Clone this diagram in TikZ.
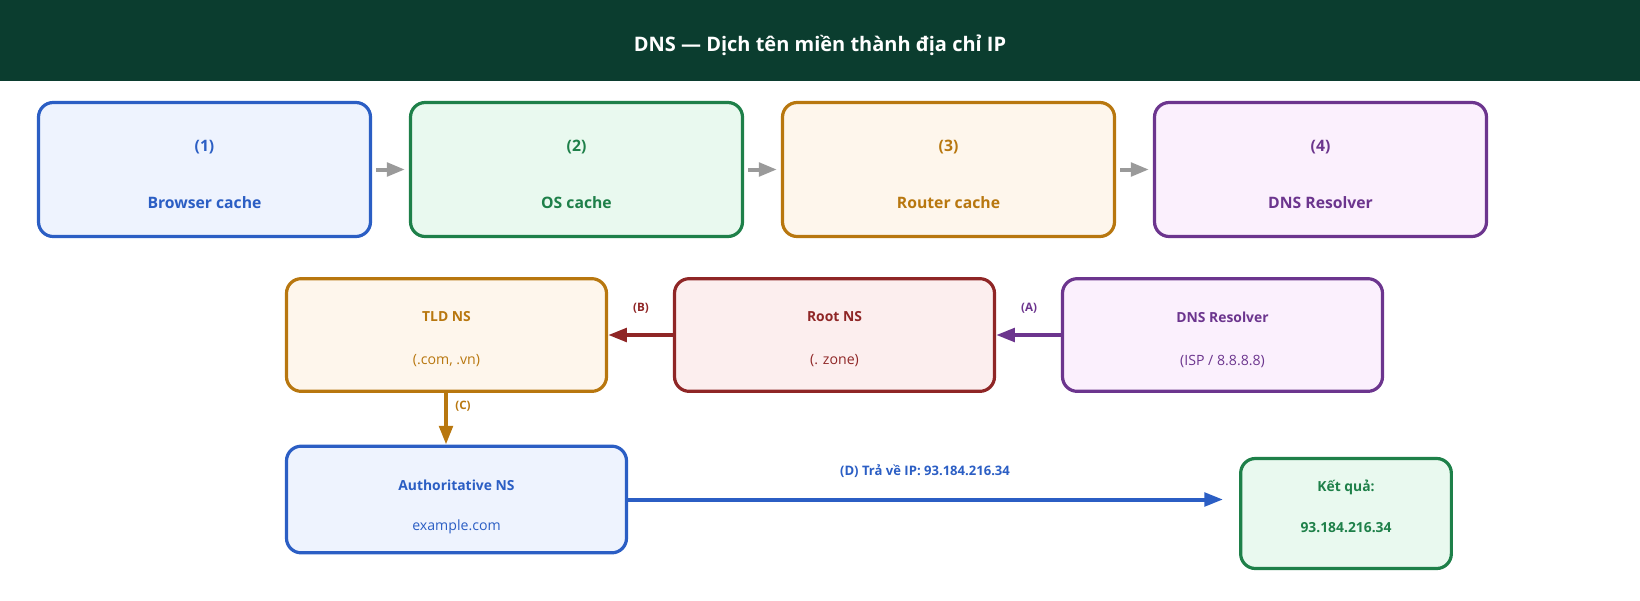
\documentclass[tikz,border=0pt]{standalone}
\usepackage{fontspec}
\setmainfont{Open Sans}
\usetikzlibrary{arrows.meta}
\definecolor{hdr}{HTML}{0B3D2F}
\definecolor{cblue}{HTML}{2B5EC4}\definecolor{fblue}{HTML}{EEF3FE}
\definecolor{cgreen}{HTML}{1E8049}\definecolor{fgreen}{HTML}{E9F9EF}
\definecolor{corange}{HTML}{B8770F}\definecolor{forange}{HTML}{FEF6EC}
\definecolor{cpurple}{HTML}{6C358E}\definecolor{fpurple}{HTML}{FBF0FD}
\definecolor{cred}{HTML}{8F2626}\definecolor{fred}{HTML}{FCEEEE}
\definecolor{cgray}{HTML}{9A9A9A}
\begin{document}
\begin{tikzpicture}[x=0.75pt,y=-0.75pt,
  box/.style={draw=c#1, fill=f#1, line width=2.4pt, rounded corners=11pt, inner sep=0pt},
  bigbox/.style={box=#1, minimum width=249pt, minimum height=100.5pt},
  midbox/.style={box=#1, minimum width=240pt, minimum height=84.5pt},
  bigtxt/.style={text=c#1, font=\bfseries\fontsize{11.8}{14}\selectfont, inner sep=0pt},
  midtxt/.style={text=c#1, font=\bfseries\fontsize{10.4}{12}\selectfont, inner sep=0pt},
  subtxt/.style={text=c#1, font=\fontsize{10.6}{12}\selectfont, inner sep=0pt},
  lbl/.style={text=c#1, font=\bfseries\fontsize{8.7}{11}\selectfont, inner sep=0pt},
  garrow/.style={draw=cgray, line width=3pt, -{Triangle[length=13.5pt,width=10pt]}, shorten <=3pt, shorten >=3pt},
  carrow/.style={draw=c#1, line width=3pt, -{Triangle[length=14pt,width=10pt]}},
]
\useasboundingbox (0,0) rectangle (1640,600);
\fill[hdr] (0,0) rectangle (1640,81);
\node[text=white, font=\bfseries\fontsize{15}{18}\selectfont] (title) at (820,45) {DNS — Dịch tên miền thành địa chỉ IP};

% row 1
\node[bigbox=blue]   (b1) at (204.5,169.5) {};
\node[bigbox=green]  (b2) at (576.5,169.5) {};
\node[bigbox=orange] (b3) at (948.5,169.5) {};
\node[bigbox=purple] (b4) at (1320.5,169.5) {};
\node[bigtxt=blue]   (b1a) at (204.5,147) {(1)};
\node[bigtxt=blue]   (b1b) at (204.5,203) {Browser cache};
\node[bigtxt=green]  (b2a) at (576.5,147) {(2)};
\node[bigtxt=green]  (b2b) at (576.5,203) {OS cache};
\node[bigtxt=orange] (b3a) at (948.5,147) {(3)};
\node[bigtxt=orange] (b3b) at (948.5,203) {Router cache};
\node[bigtxt=purple] (b4a) at (1320.5,147) {(4)};
\node[bigtxt=purple] (b4b) at (1320.5,203) {DNS Resolver};
\draw[garrow] (b1.east) -- (b2.west);
\draw[garrow] (b2.east) -- (b3.west);
\draw[garrow] (b3.east) -- (b4.west);

% row 2
\node[midbox=orange] (tld) at (446.5,335) {};
\node[midbox=red]    (root) at (834.5,335) {};
\node[midbox=purple] (res) at (1222.5,335) {};
\node[midtxt=orange] (tlda) at (446.5,317) {TLD NS};
\node[subtxt=orange] (tldb) at (446.5,361) {(.com, .vn)};
\node[midtxt=red]    (roota) at (834.5,317) {Root NS};
\node[subtxt=red]    (rootb) at (834.5,361) {(. zone)};
\node[midtxt=purple] (resa) at (1222.5,317) {DNS Resolver};
\node[subtxt=purple] (resb) at (1222.5,361) {(ISP / 8.8.8.8)};
\draw[carrow=purple] (res.west) -- (root.east);
\draw[carrow=red] (root.west) -- (tld.east);
\node[lbl=purple] (la) at (1029,308) {(A)};
\node[lbl=red] (lb) at (641,308) {(B)};

% row 3
\node[box=blue, minimum width=255pt, minimum height=80pt] (auth) at (456.5,499.5) {};
\node[midtxt=blue] (autha) at (456.5,485) {Authoritative NS};
\node[subtxt=blue] (authb) at (456.5,527) {example.com};
\node[box=green, minimum width=158pt, minimum height=82.5pt] (out) at (1346,513.5) {};
\node[midtxt=green] (outa) at (1346,487) {Kết quả:};
\node[midtxt=green] (outb) at (1346,528) {93.184.216.34};
\coordinate (tldbot) at (446,391);
\draw[carrow=orange] (tld.south -| tldbot) -- (auth.north -| tldbot);
\node[lbl=orange] (lc) at (463,406) {(C)};
\draw[carrow=blue, shorten >=12pt] (auth.east) -- (auth.east -| out.west);
\node[lbl=blue, font=\bfseries\fontsize{9.8}{12}\selectfont] (ld) at (925,471) {(D) Trả về IP: 93.184.216.34};
\end{tikzpicture}
\end{document}
